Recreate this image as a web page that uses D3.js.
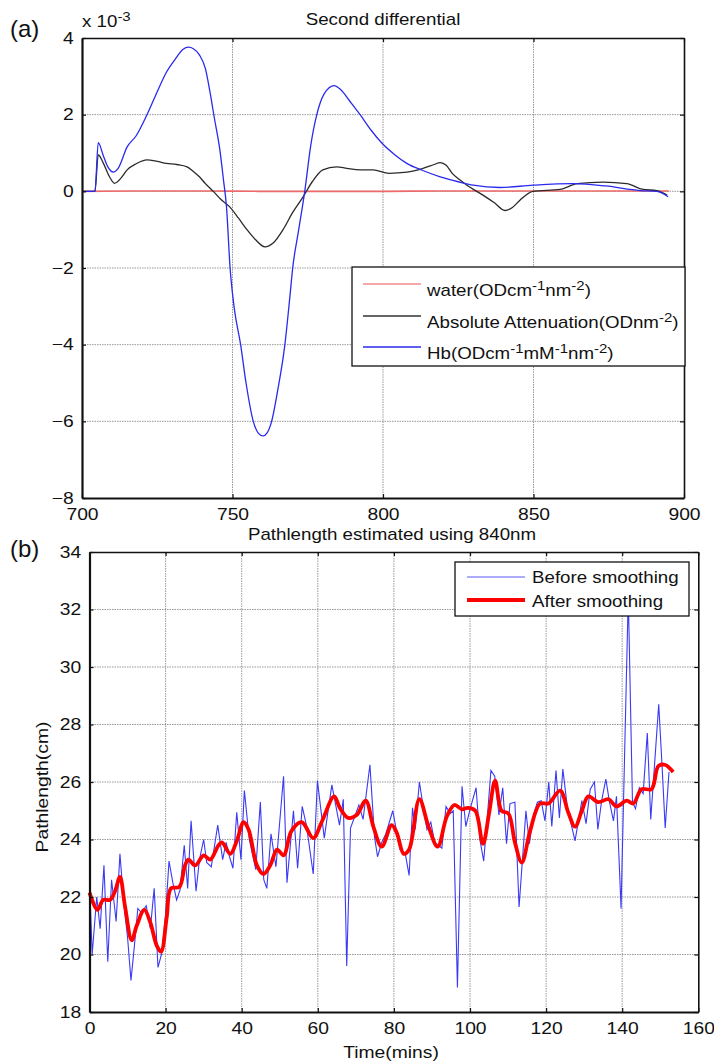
<!DOCTYPE html>
<html><head><meta charset="utf-8">
<script src="https://cdn.jsdelivr.net/npm/d3@7"></script>
<style>
body{margin:0;background:#fff}
text{font-family:"Liberation Sans",Arial,Helvetica,sans-serif;fill:#111}
</style></head>
<body><svg id="c" width="714" height="1064"></svg>
<script>
// ---------- Panel (a) data : second differential (values in units of 1e-3) ----------
const specXTicks = [700, 750, 800, 850, 900];
const specYTicks = [-8, -6, -4, -2, 0, 2, 4];
const waterWl  = [700, 720, 740, 760, 780, 800, 820, 850, 870, 895];
const waterVal = [0.0, 0.01, 0.01, 0.0, 0.0, 0.0, 0.01, 0.01, 0.01, 0.01];
const attWl  = [700,704.3,705.4,707,709,710.8,713,715,718,721.6,725,728,731.5,734.9,737,739,741,743.6,746,749,752,754.8,757.5,760.8,763.5,766.8,770,773.4,776.5,780,784.6,788,792.3,796.7,802,808,813.3,817,819,821,823,825.5,827.9,833.2,837,840.5,843,845.5,849.8,858.8,864.5,873,881,886.4,891,894.4];
const attVal = [0,0,0.95,0.75,0.4,0.21,0.35,0.56,0.72,0.82,0.78,0.73,0.7,0.64,0.52,0.38,0.2,0.0,-0.2,-0.4,-0.7,-1.0,-1.25,-1.45,-1.35,-1.0,-0.55,-0.15,0.25,0.56,0.64,0.6,0.56,0.56,0.47,0.5,0.6,0.7,0.75,0.68,0.47,0.3,0.16,-0.1,-0.3,-0.5,-0.42,-0.23,0.0,0.05,0.2,0.24,0.2,0.05,0.02,-0.1];
const hbWl  = [700,704.3,705.4,707,708.5,710.4,712,715,718,721.6,725,728,731,733.5,735.4,737,739,741,742.5,744,745.8,747,748,749.2,750.5,752.7,754.5,756.9,758.5,760.1,761.5,763,765,767.4,769,770,772,774,776,778,780.5,783.8,786,789,792.4,796,799.6,804,807.9,813,819,825,830,838.9,849.8,863,874,885.4,891,894.7];
const hbVal = [0,0,1.27,0.95,0.65,0.5,0.6,1.16,1.45,2.0,2.6,3.1,3.45,3.7,3.76,3.72,3.56,3.2,2.6,1.9,1.08,0.3,-0.4,-2.0,-3.0,-4.0,-5.0,-6.0,-6.3,-6.38,-6.3,-6.0,-5.2,-4.0,-2.8,-2.0,-1.0,0,1.2,2.0,2.55,2.76,2.65,2.35,2.0,1.6,1.26,0.95,0.73,0.55,0.38,0.25,0.16,0.1,0.16,0.2,0.14,0.02,0.0,-0.14];

// ---------- Panel (b) data : pathlength ----------
const timeTicks = [0, 20, 40, 60, 80, 100, 120, 140, 160];
const pathTicks = [18, 20, 22, 24, 26, 28, 30, 32, 34];
const beforeTime = [0,0.7,1.9,2.8,3.8,4.8,5.8,7,8,9,10,10.9,11.8,12.7,13.7,14.9,16,17,18,19,20,20.9,21.9,22.9,23.8,24.9,25.8,26.7,28,28.9,30,30.8,32,33.7,35,35.9,36.8,37.7,38.7,39.8,40.7,42,43.7,44.9,45.8,46.6,47.7,49,51,51.9,53.6,54.7,55.9,57,58.8,59.9,61.7,62.6,63.7,65.7,66.7,67.6,68.6,70.8,71.9,73.7,74.9,75.7,76.8,77.9,79.7,81.6,83,84,84.9,85.6,86.7,87.8,88.7,89.7,90.7,92.6,93.7,94.8,95.6,96.7,97.9,98.9,100,101.6,102.6,103.6,104.8,105.5,106.5,107.6,108.6,109.6,110.5,111.8,112.9,114.7,115.6,116.6,117.7,118.7,119.7,120.7,121.5,122.6,123.5,124.4,125.6,127.6,129.4,130.5,131.6,132.7,133.6,134.6,135.7,136.6,137.7,138.5,139.7,141.6,142.7,143.5,144.5,145.5,146.6,147.5,149.6,150.5,151.3,152.3];
const beforeVal = [22.6,20.0,22.0,20.9,23.1,19.75,22.6,21.15,23.5,21.8,20.6,19.1,20.3,21.6,21.45,21.7,20.9,22.3,19.55,20.05,21.4,23.25,22.5,21.9,22.25,23.8,22.3,24.65,22.2,23.3,24.0,23.2,23.05,24.5,23.3,23.9,23.4,23.0,24.95,23.3,25.7,24.0,22.95,25.3,22.6,22.3,24.2,23.05,26.2,22.5,25.0,23.0,25.15,24.5,22.8,26.05,24.05,24.9,25.9,24.5,25.4,19.6,24.4,25.2,24.7,26.6,24.1,23.4,23.9,24.2,25.0,23.65,23.5,22.75,25.1,24.35,26.0,25.05,24.35,24.6,23.9,23.7,25.15,24.9,25.0,18.85,25.85,24.45,25.05,25.8,24.0,23.25,25.2,26.4,26.2,24.85,25.8,23.85,25.25,25.3,21.65,25.0,23.85,24.8,25.3,25.35,24.65,26.0,24.45,26.4,24.75,26.45,25.1,23.95,25.35,24.55,25.75,26.0,24.35,25.35,26.1,25.35,24.65,25.5,21.6,32.5,25.3,25.07,25.8,25.6,27.7,24.7,28.7,26.5,24.4,26.35];
const afterTime = [0,2.1,3.6,5.4,6.7,8,9.3,11.1,12.4,14.4,15.9,17.7,18.8,20.3,21.4,23.6,25.1,26,27.8,30,31.7,33.9,34.8,37,38.7,40.5,41.8,44,45.7,47.5,49.3,51,53.1,55.8,58.8,61,64.3,65.8,68,70.2,72.6,74.6,76.8,79.4,80.7,82.6,84,86.7,89.1,91.5,93.9,95.9,97.9,99.4,101.4,103.4,105,106.6,108.3,110.1,111.8,113.6,115.8,118.4,120.6,123.7,125.8,127.6,129.4,131.1,133.7,136.4,138.5,141.2,142.9,145.1,147.7,149.5,151.2,153.4];
const afterVal = [22.15,21.55,21.9,21.9,22.2,22.7,21.7,20.5,21.0,21.55,21.15,20.3,20.1,21.3,22.3,22.35,23.1,23.3,23.1,23.45,23.3,23.8,23.9,23.5,23.95,24.6,24.35,23.1,22.8,23.1,23.65,23.45,24.3,24.6,24.05,24.6,25.5,25.1,24.75,24.85,25.35,24.45,23.75,24.5,24.25,23.5,23.65,25.4,24.45,23.75,24.8,25.2,25.05,25.1,25.0,23.85,24.9,26.05,25.0,24.9,23.9,23.2,24.3,25.25,25.25,25.7,24.95,24.45,25.0,25.5,25.3,25.4,25.15,25.35,25.25,25.75,25.75,26.55,26.6,26.35];

const SX = 1.17;
const svg = d3.select("#c");

function T(g, x, y, s, size, anchor) {
  return g.append("text")
    .attr("transform", `translate(${x},${y}) scale(${SX},1)`)
    .attr("font-size", size).attr("text-anchor", anchor || "start").text(s);
}
function rich(g, x, y, parts, size) {
  const t = g.append("text").attr("transform", `translate(${x},${y}) scale(${SX},1)`).attr("font-size", size);
  let up = false;
  parts.forEach(([s, sup]) => {
    const ts = t.append("tspan").text(s);
    if (sup && !up) { ts.attr("dy", -6).attr("font-size", size * 0.8); up = true; }
    else if (sup) { ts.attr("font-size", size * 0.8); }
    else if (!sup && up) { ts.attr("dy", 6); up = false; }
  });
  return t;
}

function frame(x, y, xt, yt) {
  const [x0, x1] = x.range(), [y0, y1] = y.range();
  const g = svg.append("g");
  g.selectAll(".gx").data(xt.slice(1, -1)).join("line")
    .attr("x1", d => x(d)).attr("x2", d => x(d)).attr("y1", y0).attr("y2", y1)
    .attr("stroke", "#8c8c8c").attr("stroke-width", 0.9).attr("stroke-dasharray", "1.5,1");
  g.selectAll(".gy").data(yt.slice(1, -1)).join("line")
    .attr("y1", d => y(d)).attr("y2", d => y(d)).attr("x1", x0).attr("x2", x1)
    .attr("stroke", "#8c8c8c").attr("stroke-width", 0.9).attr("stroke-dasharray", "1.5,1");
  return g;
}
function axes(x, y, xt, yt) {
  const [x0, x1] = x.range(), [y0, y1] = y.range();
  const g = svg.append("g");
  const ax = (gen, tr) => {
    const a = g.append("g").attr("transform", tr).call(gen);
    a.select(".domain").attr("stroke", "#111").attr("stroke-width", 1.6);
    a.selectAll(".tick line").attr("stroke", "#111").attr("stroke-width", 1.2);
    return a;
  };
  const b = ax(d3.axisBottom(x).tickValues(xt).tickSizeInner(-4).tickSizeOuter(0).tickPadding(7), `translate(0,${y0})`);
  b.select(".domain").attr("stroke-width", 2.2);
  b.selectAll(".tick text").attr("font-size", 16.5).attr("fill", "#111")
    .attr("transform", `scale(${SX},1)`).attr("dy", "0.9em");
  const l = ax(d3.axisLeft(y).tickValues(yt).tickSizeInner(-4).tickSizeOuter(0).tickPadding(7), `translate(${x0},0)`);
  l.select(".domain").attr("stroke-width", 2.2);
  l.selectAll(".tick text").attr("font-size", 16.5).attr("fill", "#111")
    .attr("transform", `scale(${SX},1)`).attr("x", -7);
  ax(d3.axisTop(x).tickValues(xt).tickSizeInner(-4).tickSizeOuter(0).tickFormat(""), `translate(0,${y1})`);
  ax(d3.axisRight(y).tickValues(yt).tickSizeInner(-4).tickSizeOuter(0).tickFormat(""), `translate(${x1},0)`);
}

// ---------- Panel (a) ----------
const xA = d3.scaleLinear().domain([700, 900]).range([82, 684]);
const yA = d3.scaleLinear().domain([-8, 4]).range([498, 38]);
frame(xA, yA, specXTicks, specYTicks);
const lineA = (wl, v) => d3.line().x((d, i) => xA(wl[i])).y((d, i) => yA(v[i])).curve(d3.curveMonotoneX)(v);
svg.append("path").attr("d", lineA(waterWl, waterVal)).attr("fill", "none").attr("stroke", "#ee6a6a").attr("stroke-width", 1.6);
svg.append("path").attr("d", lineA(attWl, attVal)).attr("fill", "none").attr("stroke", "#2b2b2b").attr("stroke-width", 1.3);
svg.append("path").attr("d", lineA(hbWl, hbVal)).attr("fill", "none").attr("stroke", "#2a2af0").attr("stroke-width", 1.3);
axes(xA, yA, specXTicks, specYTicks);

T(svg, 383, 25, "Second differential", 16, "middle");
rich(svg, 82, 27, [["x 10", false], ["-3", true]], 16);
svg.append("text").attr("x", 10).attr("y", 37).attr("font-size", 24).attr("font-family", "Open Sans, sans-serif").text("(a)");

// legend (a)
const legA = svg.append("g");
legA.append("rect").attr("x", 352).attr("y", 267).attr("width", 333).attr("height", 99)
  .attr("fill", "#fff").attr("stroke", "#111").attr("stroke-width", 1.3);
const legAItems = [
  {c: "#f08a8a", y: 284, parts: [["water(ODcm", false], ["-1", true], ["nm", false], ["-2", true], [")", false]]},
  {c: "#333", y: 316, parts: [["Absolute Attenuation(ODnm", false], ["-2", true], [")", false]]},
  {c: "#2a2af0", y: 347, parts: [["Hb(ODcm", false], ["-1", true], ["mM", false], ["-1", true], ["nm", false], ["-2", true], [")", false]]}
];
legAItems.forEach(it => {
  legA.append("line").attr("x1", 363).attr("x2", 421).attr("y1", it.y).attr("y2", it.y).attr("stroke", it.c).attr("stroke-width", 1.4);
  rich(legA, 427, it.y + 12, it.parts, 16);
});

// ---------- Panel (b) ----------
const xB = d3.scaleLinear().domain([0, 160]).range([89.5, 698.3]);
const yB = d3.scaleLinear().domain([18, 34]).range([1012, 552]);
frame(xB, yB, timeTicks, pathTicks);
svg.append("path")
  .attr("d", d3.line().x((d, i) => xB(beforeTime[i])).y(d => yB(d))(beforeVal))
  .attr("fill", "none").attr("stroke", "#3a3af5").attr("stroke-width", 1.1);
svg.append("path")
  .attr("d", d3.line().x((d, i) => xB(afterTime[i])).y(d => yB(d)).curve(d3.curveCatmullRom.alpha(0.5))(afterVal))
  .attr("fill", "none").attr("stroke", "#ff0000").attr("stroke-width", 3.8).attr("stroke-linejoin", "round");
axes(xB, yB, timeTicks, pathTicks);

T(svg, 392, 540, "Pathlength estimated using 840nm", 16, "middle");
T(svg, 391, 1058, "Time(mins)", 16.5, "middle");
svg.append("text").attr("transform", `translate(48,787) rotate(-90) scale(${SX},1)`)
  .attr("font-size", 16.5).attr("text-anchor", "middle").text("Pathlength(cm)");
svg.append("text").attr("x", 10).attr("y", 557).attr("font-size", 24).attr("font-family", "Open Sans, sans-serif").text("(b)");

const legB = svg.append("g");
legB.append("rect").attr("x", 455).attr("y", 562).attr("width", 234).attr("height", 54)
  .attr("fill", "#fff").attr("stroke", "#111").attr("stroke-width", 1.3);
legB.append("line").attr("x1", 467).attr("x2", 525).attr("y1", 577).attr("y2", 577).attr("stroke", "#5a5af5").attr("stroke-width", 1.2);
legB.append("line").attr("x1", 467).attr("x2", 525).attr("y1", 600).attr("y2", 600).attr("stroke", "#ff0000").attr("stroke-width", 3.8);
T(legB, 532, 583, "Before smoothing", 16);
T(legB, 532, 607, "After smoothing", 16);
</script></body></html>
